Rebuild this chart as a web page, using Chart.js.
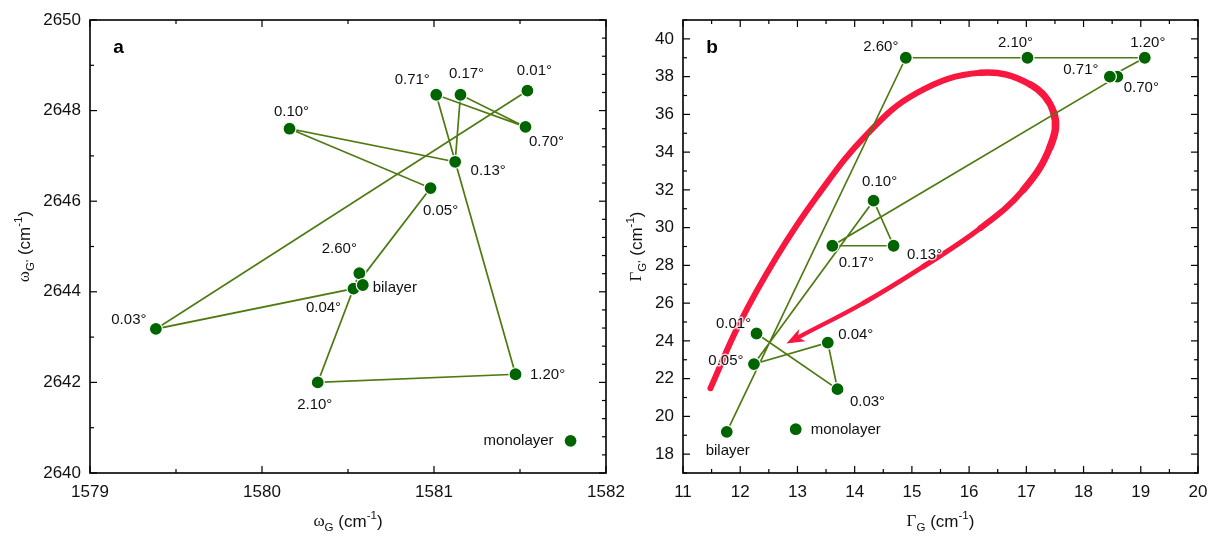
<!DOCTYPE html>
<html>
<head>
<meta charset="utf-8">
<script src="https://cdn.jsdelivr.net/npm/chart.js@4"></script>
<style>
  body { margin: 0; background: #fff; }
  #wrap { position: relative; width: 1212px; height: 539px; }
  canvas { position: absolute; top: 0; }
</style>
</head>
<body>
<div id="wrap">
  <canvas id="ca" width="650" height="539" style="left:0"></canvas>
  <canvas id="cb" width="592" height="539" style="left:620px"></canvas>
</div>
<script>
// samples, in the order the connecting line goes through them
const samples = ['0.01°', '0.03°', '0.04°', '0.05°', '0.10°', '0.13°', '0.17°', '0.70°', '0.71°', '1.20°', '2.10°', '2.60°', 'bilayer'];
const monoName = 'monolayer';

// panel a: omega_G vs omega_G'
const omegaG  = [1581.543, 1579.383, 1580.532, 1580.98, 1580.16, 1581.123, 1581.154, 1581.532, 1581.013, 1581.474, 1580.324, 1580.566, 1580.586];
const omegaG2 = [2648.44, 2643.18, 2644.07, 2646.29, 2647.60, 2646.87, 2648.35, 2647.64, 2648.35, 2642.18, 2642.00, 2644.41, 2644.15];
const monoA = [1581.794, 2640.71];

// panel b: Gamma_G vs Gamma_G'
const gammaG  = [12.285, 13.70, 13.53, 12.24, 14.33, 14.68, 13.61, 18.59, 18.46, 19.07, 17.02, 14.894, 11.765];
const gammaG2 = [24.39, 21.44, 23.91, 22.77, 31.43, 29.04, 29.04, 38.0, 38.0, 39.0, 39.0, 39.0, 19.18];
const monoB = [12.97, 19.32];

// red guide arrow in panel b
const arrowX = [11.48, 11.99, 12.64, 13.34, 14.21, 15.09, 16.20, 17.07, 17.48, 17.42, 16.95, 16.20, 15.20, 14.15, 13.04];
const arrowY = [21.49, 24.94, 28.47, 31.65, 34.93, 37.14, 38.20, 37.58, 36.08, 34.31, 32.01, 29.98, 27.94, 26.0, 24.23];

// tick labels
const aXTicks = [1579, 1580, 1581, 1582];
const aYTicks = [2640, 2642, 2644, 2646, 2648, 2650];
const bXTicks = [11, 12, 13, 14, 15, 16, 17, 18, 19, 20];
const bYTicks = [18, 20, 22, 24, 26, 28, 30, 32, 34, 36, 38, 40];

// label offsets in px (samples order, then monolayer)
const offA = [[7,-20],[-27,-9],[-30,19],[10,23],[2,-17],[33,9],[6,-21],[21,15],[-24,-15],[32,1],[-3,22],[-20,-24],[32,3],[-52,0]];
const offB = [[-23,-10],[30,13],[28,-8],[-28,-3],[6,-19],[31,9],[24,17],[24,11],[-29,-7],[3,-15],[-12,-15],[-25,-11],[1,19],[50,1]];

const SANS = '"Liberation Sans", Arial, Helvetica, sans-serif';
const SERIF = '"Liberation Serif", "Times New Roman", serif';
const DOT = '#006400';
const LINE = '#4f7a12';
const RED = '#f8173f';

function toPts(xs, ys) { return xs.map((v, i) => ({ x: v, y: ys[i] })); }

function steps(min, max, step) {
  const out = [];
  const n0 = Math.ceil(min / step - 1e-6), n1 = Math.floor(max / step + 1e-6);
  for (let n = n0; n <= n1; n++) out.push(n * step);
  return out;
}
function isMajor(v, step) { return Math.abs(v / step - Math.round(v / step)) < 1e-6; }

// draws text made of parts, some of them sub- or superscript
function richText(ctx, parts, x, y, size, rotate) {
  ctx.save();
  ctx.translate(x, y);
  if (rotate) ctx.rotate(-Math.PI / 2);
  ctx.textBaseline = 'middle';
  ctx.textAlign = 'left';
  ctx.fillStyle = '#111';
  const items = parts.map(p => {
    const s = p.s ? size * 0.68 : size;
    const font = s + 'px ' + (p.f || SANS);
    ctx.font = font;
    return { t: p.t, font, w: ctx.measureText(p.t).width, dy: p.s === -1 ? size * 0.32 : p.s === 1 ? -size * 0.38 : 0 };
  });
  let cx = -items.reduce((a, b) => a + b.w, 0) / 2;
  items.forEach(it => {
    ctx.font = it.font;
    ctx.fillText(it.t, cx, it.dy);
    cx += it.w;
  });
  ctx.restore();
}

// box frame with inward ticks on all four sides
const frame = {
  id: 'frame',
  afterDraw(chart, args, o) {
    const { ctx, chartArea: a, scales: { x, y } } = chart;
    ctx.save();
    ctx.strokeStyle = '#000';
    ctx.lineWidth = 1.2;
    const line = (x1, y1, x2, y2) => { ctx.beginPath(); ctx.moveTo(x1, y1); ctx.lineTo(x2, y2); ctx.stroke(); };
    steps(x.min, x.max, o.xMinor).forEach(v => {
      const p = x.getPixelForValue(v), L = isMajor(v, o.xMajor) ? 7 : 4;
      line(p, a.bottom, p, a.bottom - L);
      line(p, a.top, p, a.top + L);
    });
    steps(y.min, y.max, o.yMinorL).forEach(v => {
      const p = y.getPixelForValue(v), L = isMajor(v, o.yMajor) ? 7 : 4;
      line(a.left, p, a.left + L, p);
    });
    steps(y.min, y.max, o.yMinorR).forEach(v => {
      const p = y.getPixelForValue(v), L = isMajor(v, o.yMajor) ? 7 : 4;
      line(a.right, p, a.right - L, p);
    });
    ctx.lineWidth = 1.6;
    ctx.strokeRect(a.left, a.top, a.right - a.left, a.bottom - a.top);
    // panel letter
    ctx.fillStyle = '#000';
    ctx.font = 'bold 19px ' + SANS;
    ctx.textAlign = 'center';
    ctx.textBaseline = 'middle';
    ctx.fillText(o.letter, a.left + o.letterDx, a.top + 28);
    ctx.restore();
    richText(ctx, o.xTitle, (a.left + a.right) / 2, 522, 17, false);
    richText(ctx, o.yTitle, o.yTitleX, (a.top + a.bottom) / 2, 17, true);
  }
};

// names next to the points
const pointLabels = {
  id: 'pointLabels',
  afterDatasetsDraw(chart, args, o) {
    const { ctx } = chart;
    const meta = chart.getDatasetMeta(0);
    ctx.save();
    ctx.font = '15px ' + SANS;
    ctx.textAlign = 'center';
    ctx.textBaseline = 'middle';
    ctx.lineJoin = 'round';
    o.names.forEach((name, i) => {
      const el = meta.data[i];
      const tx = el.x + o.offsets[i][0], ty = el.y + o.offsets[i][1];
      ctx.strokeStyle = 'rgba(255,255,255,0.75)';
      ctx.lineWidth = 3;
      ctx.strokeText(name, tx, ty);
      ctx.fillStyle = '#111';
      ctx.fillText(name, tx, ty);
    });
    ctx.restore();
  }
};

// arrow head at the end of the red curve
const arrowHead = {
  id: 'arrowHead',
  afterDatasetDraw(chart, args) {
    if (chart.data.datasets[args.index].label !== 'guide') return;
    const pts = args.meta.data;
    const p1 = pts[pts.length - 2], p2 = pts[pts.length - 1];
    let dx = p2.x - p1.x, dy = p2.y - p1.y;
    const len = Math.hypot(dx, dy); dx /= len; dy /= len;
    const nx = -dy, ny = dx;
    const tip = [p2.x + dx * 15, p2.y + dy * 15];
    const ctx = chart.ctx;
    ctx.save();
    ctx.fillStyle = RED;
    ctx.beginPath();
    ctx.moveTo(tip[0], tip[1]);
    ctx.lineTo(p2.x - dx * 3 + nx * 7, p2.y - dy * 3 + ny * 7);
    ctx.lineTo(p2.x + dx * 2, p2.y + dy * 2);
    ctx.lineTo(p2.x - dx * 3 - nx * 7, p2.y - dy * 3 - ny * 7);
    ctx.closePath();
    ctx.fill();
    ctx.restore();
  }
};

function axis(min, max, ticks, size, vertical) {
  return {
    type: 'linear', min, max,
    grid: { display: false, drawTicks: false },
    border: { display: false },
    afterBuildTicks: s => { s.ticks = ticks.map(v => ({ value: v })); },
    afterFit: s => {
      if (vertical) s.width = size; else s.height = size;
      s.paddingLeft = s.paddingRight = s.paddingTop = s.paddingBottom = 0;
    },
    ticks: {
      color: '#111', font: { family: SANS, size: 17 }, padding: 9,
      maxRotation: 0, autoSkip: false, callback: v => String(v)
    }
  };
}

function pointSets(xs, ys, mono) {
  return [
    {
      label: 'samples', data: toPts(xs, ys).concat([{ x: mono[0], y: mono[1] }]),
      showLine: false, pointRadius: 6.5, pointHoverRadius: 6.5,
      backgroundColor: DOT, borderColor: '#fff', borderWidth: 1.2
    },
    {
      label: 'path', data: toPts(xs, ys), showLine: true,
      pointRadius: 0, borderColor: LINE, borderWidth: 1.7, fill: false
    }
  ];
}

const names = samples.concat([monoName]);

new Chart(document.getElementById('ca'), {
  type: 'scatter',
  data: { datasets: pointSets(omegaG, omegaG2, monoA) },
  options: {
    responsive: false, animation: false, events: [],
    layout: { padding: { left: 0, right: 44, top: 20, bottom: 0 } },
    scales: {
      x: axis(1579, 1582, aXTicks, 66, false),
      y: axis(2640, 2650, aYTicks, 90, true)
    },
    plugins: {
      legend: { display: false }, tooltip: { enabled: false },
      frame: {
        xMinor: 0.5, xMajor: 1, yMinorL: 1, yMinorR: 0.4, yMajor: 2,
        letter: 'a', letterDx: 28.5, yTitleX: 25,
        xTitle: [{ t: 'ω', f: SERIF }, { t: 'G', s: -1 }, { t: ' (cm' }, { t: '-1', s: 1 }, { t: ')' }],
        yTitle: [{ t: 'ω', f: SERIF }, { t: "G'", s: -1 }, { t: ' (cm' }, { t: '-1', s: 1 }, { t: ')' }]
      },
      pointLabels: { names, offsets: offA }
    }
  },
  plugins: [frame, pointLabels]
});

const guideWidths = [6, 6, 6, 6, 6, 6, 6.5, 7, 7.5, 7, 6, 5.2, 4.6, 4.2, 4];
const setsB = pointSets(gammaG, gammaG2, monoB);
setsB.push({
  label: 'guide', data: toPts(arrowX, arrowY), showLine: true, pointRadius: 0,
  borderColor: RED, borderWidth: 6, tension: 0.4, borderCapStyle: 'round', borderJoinStyle: 'round', fill: false,
  segment: { borderWidth: c => guideWidths[c.p0DataIndex] }
});

new Chart(document.getElementById('cb'), {
  type: 'scatter',
  data: { datasets: setsB },
  options: {
    responsive: false, animation: false, events: [],
    layout: { padding: { left: 0, right: 14, top: 20, bottom: 0 } },
    scales: {
      x: axis(11, 20, bXTicks, 66, false),
      y: axis(17, 41, bYTicks, 63, true)
    },
    plugins: {
      legend: { display: false }, tooltip: { enabled: false },
      frame: {
        xMinor: 0.5, xMajor: 1, yMinorL: 1, yMinorR: 1, yMajor: 2,
        letter: 'b', letterDx: 29, yTitleX: 17,
        xTitle: [{ t: 'Γ', f: SERIF }, { t: 'G', s: -1 }, { t: ' (cm' }, { t: '-1', s: 1 }, { t: ')' }],
        yTitle: [{ t: 'Γ', f: SERIF }, { t: "G'", s: -1 }, { t: ' (cm' }, { t: '-1', s: 1 }, { t: ')' }]
      },
      pointLabels: { names, offsets: offB }
    }
  },
  plugins: [frame, pointLabels, arrowHead]
});
</script>
</body>
</html>
